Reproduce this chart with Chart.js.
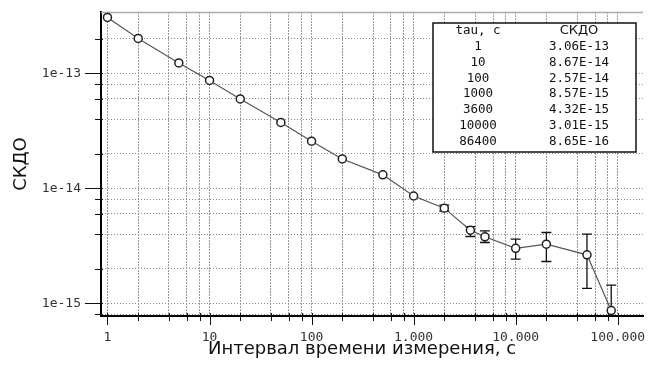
<!DOCTYPE html>
<html><head><meta charset="utf-8">
<script src="https://cdn.jsdelivr.net/npm/chart.js@4/dist/chart.umd.min.js"></script>
<style>html,body{margin:0;padding:0;background:#fff;}#wrap{width:649px;height:365px;}</style>
</head><body><div id="wrap"><canvas id="c" width="649" height="365"></canvas></div>
<script>
// ---- data ----
const tau = [1, 2, 5, 10, 20, 50, 100, 200, 500, 1000, 2000, 3600, 5000, 10000, 20000, 50000, 86400];
const adev = [3.06e-13, 2.01e-13, 1.23e-13, 8.67e-14, 5.98e-14, 3.74e-14, 2.57e-14, 1.80e-14, 1.31e-14, 8.57e-15, 6.72e-15, 4.32e-15, 3.79e-15, 3.01e-15, 3.27e-15, 2.64e-15, 8.65e-16];
const errLow = [null, null, null, null, null, null, null, null, null, null, 6.35e-15, 3.81e-15, 3.38e-15, 2.42e-15, 2.31e-15, 1.35e-15, 0.70e-15];
const errHigh = [null, null, null, null, null, null, null, null, null, null, 7.15e-15, 4.65e-15, 4.27e-15, 3.61e-15, 4.13e-15, 4.00e-15, 1.44e-15];
const xDecades = [1, 10, 100, 1000, 10000, 100000];
const xTickLabels = ['1', '10', '100', '1.000', '10.000', '100.000'];
const yDecades = [1e-15, 1e-14, 1e-13];
const yTickLabels = ['1e-15', '1e-14', '1e-13'];
const minorSteps = [2, 4, 6, 8];
const tableHeader = ['tau, c', 'СКДО'];
const tableTau = ['1', '10', '100', '1000', '3600', '10000', '86400'];
const tableAdev = ['3.06E-13', '8.67E-14', '2.57E-14', '8.57E-15', '4.32E-15', '3.01E-15', '8.65E-16'];
const xTitle = 'Интервал времени измерения, с';
const yTitle = 'СКДО';

function sameVal(a, b) { return Math.abs(Math.log10(a) - Math.log10(b)) < 1e-6; }
function buildLogTicks(scale, decades) {
  const e0 = Math.round(Math.log10(decades[0])) - 1;
  const e1 = Math.round(Math.log10(decades[decades.length - 1])) + 1;
  const out = [];
  for (let e = e0; e <= e1; e++) {
    [1].concat(minorSteps).forEach(m => {
      const v = parseFloat(m + 'e' + e);
      if (v >= scale.min && v <= scale.max) out.push({value: v, isDec: m === 1});
    });
  }
  scale.ticks = out;
}
function labelFor(value, decades, labels) {
  for (let i = 0; i < decades.length; i++) if (sameVal(value, decades[i])) return labels[i];
  return '';
}
function zeroPad(s) { s.paddingTop = 0; s.paddingBottom = 0; s.paddingLeft = 0; s.paddingRight = 0; }

const extras = {
  id: 'extras',
  beforeDatasetsDraw(chart) {
    const {ctx, chartArea: a, scales: {x, y}} = chart;
    ctx.save();
    // top frame line
    ctx.strokeStyle = '#aaa'; ctx.lineWidth = 1.5;
    ctx.beginPath(); ctx.moveTo(a.left, a.top + 0.5); ctx.lineTo(a.right, a.top + 0.5); ctx.stroke();
    // tick marks
    ctx.strokeStyle = '#111'; ctx.lineWidth = 1;
    x.ticks.forEach(t => {
      const px = Math.round(x.getPixelForValue(t.value)) + 0.5;
      ctx.beginPath(); ctx.moveTo(px, a.bottom - 3); ctx.lineTo(px, a.bottom + (t.isDec ? 9 : 5)); ctx.stroke();
    });
    y.ticks.forEach(t => {
      const py = Math.round(y.getPixelForValue(t.value)) + 0.5;
      ctx.beginPath(); ctx.moveTo(a.left - (t.isDec ? 16 : 6), py); ctx.lineTo(a.left + 2, py); ctx.stroke();
    });
    // error bars
    ctx.beginPath(); ctx.rect(a.left, a.top, a.right - a.left, a.bottom - a.top); ctx.clip();
    ctx.strokeStyle = '#111'; ctx.lineWidth = 1.3;
    tau.forEach((t, i) => {
      if (errLow[i] == null) return;
      const px = x.getPixelForValue(t);
      const yl = y.getPixelForValue(errLow[i]);
      const yh = y.getPixelForValue(errHigh[i]);
      ctx.beginPath();
      ctx.moveTo(px, yl); ctx.lineTo(px, yh);
      ctx.moveTo(px - 5, yh); ctx.lineTo(px + 5, yh);
      ctx.moveTo(px - 5, yl); ctx.lineTo(px + 5, yl);
      ctx.stroke();
    });
    ctx.restore();
  },
  afterDraw(chart) {
    const {ctx} = chart;
    ctx.save();
    // table box
    const bx = 433, by = 23, bw = 203, bh = 129;
    ctx.fillStyle = '#fff'; ctx.fillRect(bx, by, bw, bh);
    ctx.strokeStyle = '#111'; ctx.lineWidth = 1.5; ctx.strokeRect(bx, by, bw, bh);
    ctx.fillStyle = '#111'; ctx.textAlign = 'center'; ctx.textBaseline = 'middle';
    const c1 = 478, c2 = 579, r0 = 31, dr = 15.8;
    ctx.font = '12.5px "DejaVu Sans Mono"';
    ctx.fillText(tableHeader[0], c1, r0);
    ctx.font = '13px "DejaVu Sans"';
    ctx.fillText(tableHeader[1], c2, r0);
    ctx.font = '12.5px "DejaVu Sans Mono"';
    tableTau.forEach((t, i) => {
      ctx.fillText(t, c1, r0 + dr * (i + 1));
      ctx.fillText(tableAdev[i], c2, r0 + dr * (i + 1));
    });
    // x title
    ctx.font = '18px "DejaVu Sans"';
    ctx.fillStyle = '#111';
    ctx.fillText(xTitle, 362, 349);
    ctx.restore();
  }
};

new Chart(document.getElementById('c'), {
  type: 'line',
  data: {
    datasets: [{
      data: tau.map((t, i) => ({x: t, y: adev[i]})),
      borderColor: '#555', borderWidth: 1.2,
      pointRadius: 4, pointBorderWidth: 1.5,
      pointBorderColor: '#222', pointBackgroundColor: '#fff',
      tension: 0, fill: false
    }]
  },
  options: {
    responsive: false, animation: false, devicePixelRatio: 1,
    layout: {padding: {top: 12, right: 6, left: 0, bottom: 0}},
    plugins: {legend: {display: false}, tooltip: {enabled: false}},
    scales: {
      x: {
        type: 'logarithmic', min: 0.864, max: 177000, bounds: 'data',
        afterBuildTicks: s => buildLogTicks(s, xDecades),
        afterFit: s => { s.height = 49; zeroPad(s); },
        grid: {color: '#9a9a9a', lineWidth: 1, drawTicks: false},
        border: {display: true, color: '#000', width: 2, dash: [2, 1]},
        ticks: {
          autoSkip: false, maxRotation: 0, padding: 14, color: '#333',
          font: {family: 'DejaVu Sans Mono', size: 13},
          callback: v => labelFor(v, xDecades, xTickLabels)
        },
        title: {display: false}
      },
      y: {
        type: 'logarithmic', min: 0.776e-15, max: 3.41e-13, bounds: 'data',
        afterBuildTicks: s => buildLogTicks(s, yDecades),
        afterFit: s => { s.width = 101; zeroPad(s); },
        grid: {color: '#8a8a8a', lineWidth: 1, drawTicks: false},
        border: {display: true, color: '#000', width: 2, dash: [1, 2]},
        ticks: {
          autoSkip: false, padding: 20, color: '#333',
          font: {family: 'DejaVu Sans Mono', size: 13},
          callback: v => labelFor(v, yDecades, yTickLabels)
        },
        title: {display: true, text: yTitle, color: '#111', font: {family: 'DejaVu Sans', size: 18}, padding: {top: 11, bottom: 0}}
      }
    }
  },
  plugins: [extras]
});
</script></body></html>
